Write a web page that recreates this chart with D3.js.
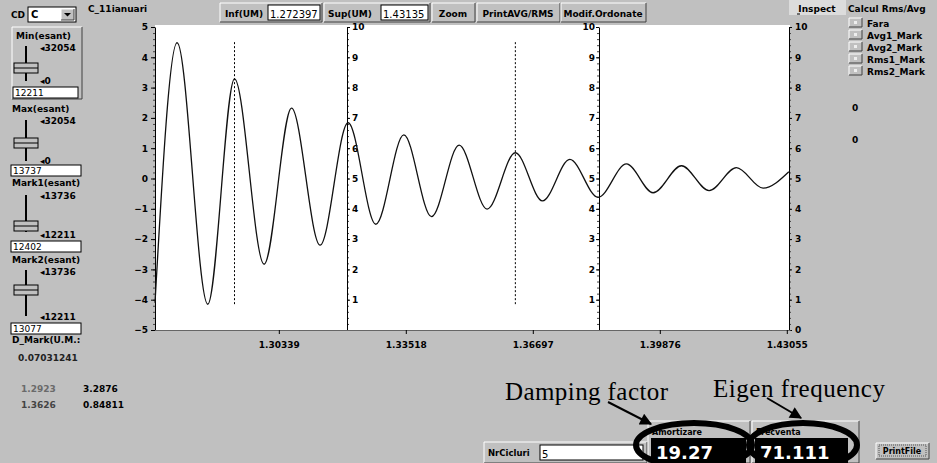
<!DOCTYPE html>
<html>
<head>
<meta charset="utf-8">
<script src="https://cdn.jsdelivr.net/npm/d3@7"></script>
<style>
  body { margin: 0; background: #c0c0c0; }
  svg text { font-family: "DejaVu Sans", Verdana, sans-serif; }
</style>
</head>
<body>
<script>
// values
const xTickValues = [1.30339, 1.33518, 1.36697, 1.39876, 1.43055];
const leftTicks = [-5, -4, -3, -2, -1, 0, 1, 2, 3, 4, 5];
const rightTicks = [0, 1, 2, 3, 4, 5, 6, 7, 8, 9, 10];
const midTicks = [1, 2, 3, 4, 5, 6, 7, 8, 9, 10];

// damped oscillation, extrema
const sampleX = [1.27240, 1.27793, 1.28561, 1.2923, 1.29971, 1.30657, 1.31372, 1.32073,
  1.32767, 1.33468, 1.34161, 1.34852, 1.35553, 1.3626, 1.36939, 1.37623, 1.38331,
  1.39042, 1.39708, 1.40419, 1.41110, 1.41795, 1.42461, 1.43105];
const sampleY = [-4.1, 4.48, -4.15, 3.29, -2.83, 2.32, -2.2, 1.84,
  -1.51, 1.44, -1.26, 1.10, -1.01, 0.85, -0.74, 0.63, -0.62,
  0.48, -0.47, 0.42, -0.40, 0.36, -0.32, 0.22];

const markerX = [1.2923, 1.3626];
const markerVal = ["3.2876", "0.84811"];

const infUM = "1.272397", supUM = "1.43135";
const dMark = "0.07031241";
const amortizare = "19.27", frecventa = "71.111", nrCicluri = "5";
const radioItems = ["Fara", "Avg1_Mark", "Avg2_Mark", "Rms1_Mark", "Rms2_Mark"];
const sliders = [
  {label: "Min(esant)", top: "32054", bot: "0", value: "12211"},
  {label: "Max(esant)", top: "32054", bot: "0", value: "13737"},
  {label: "Mark1(esant)", top: "13736", bot: "12211", value: "12402"},
  {label: "Mark2(esant)", top: "13736", bot: "12211", value: "13077"}
];

const W = 937, H = 463;
const svg = d3.select("body").append("svg").attr("width", W).attr("height", H);
svg.append("rect").attr("width", W).attr("height", H).attr("fill", "#c0c0c0");

function txt(x, y, s, opt) {
  opt = opt || {};
  return svg.append("text").attr("x", x).attr("y", y).text(s)
    .attr("font-size", opt.size || 9)
    .attr("font-weight", opt.weight || "bold")
    .attr("fill", opt.fill || "#000")
    .attr("text-anchor", opt.anchor || "start");
}
function box3d(x, y, w, h, sunken, fill) {
  svg.append("rect").attr("x", x).attr("y", y).attr("width", w).attr("height", h)
    .attr("fill", fill || "#c0c0c0");
  const lt = sunken ? "#808080" : "#fff", rb = sunken ? "#fff" : "#404040";
  svg.append("path").attr("d", `M${x},${y + h}V${y}H${x + w}`).attr("stroke", lt).attr("fill", "none");
  svg.append("path").attr("d", `M${x + w},${y}V${y + h}H${x}`).attr("stroke", rb).attr("fill", "none");
}
function input(x, y, w, h, s, size) {
  svg.append("rect").attr("x", x).attr("y", y).attr("width", w).attr("height", h)
    .attr("fill", "#fff").attr("stroke", "#000");
  txt(x + 2, y + h - 2, s, {size: size || 9, weight: "normal"});
}

// ---- plot area ----
const x = d3.scaleLinear().domain([1.272397, 1.43135]).range([155, 790]);
const yL = d3.scaleLinear().domain([-5, 5]).range([330, 27]);
const yR = d3.scaleLinear().domain([0, 10]).range([330, 27]);

svg.append("rect").attr("x", 155).attr("y", 25).attr("width", 635).attr("height", 305).attr("fill", "#fff");

function styleAxis(g) {
  g.selectAll("text").attr("font-size", 9).attr("font-weight", "bold");
  g.selectAll("path.domain").attr("stroke", "#000");
  g.selectAll("line").attr("stroke", "#000");
}
function minor(axisFn, scale, lo, hi, px) {
  svg.append("g").attr("transform", `translate(${px},0)`)
    .call(axisFn(scale).tickValues(d3.range(lo, hi + 0.001, 0.2)).tickSize(2).tickFormat(""))
    .call(g => g.select(".domain").remove())
    .selectAll("line").attr("stroke", "#444");
}

// left axis
minor(d3.axisLeft, yL, -5, 5, 155);
svg.append("g").attr("transform", "translate(155,0)")
  .call(d3.axisLeft(yL).tickValues(leftTicks).tickSize(4).tickPadding(3).tickSizeOuter(0))
  .call(styleAxis);

// second axis (labels right)
minor(d3.axisRight, yR, 0, 10, 347);
svg.append("g").attr("transform", "translate(347,0)")
  .call(d3.axisRight(yR).tickValues(midTicks).tickSize(3).tickPadding(2).tickSizeOuter(0))
  .call(styleAxis);

// third axis (labels left)
minor(d3.axisLeft, yR, 0, 10, 599);
svg.append("g").attr("transform", "translate(599,0)")
  .call(d3.axisLeft(yR).tickValues(midTicks).tickSize(3).tickPadding(1).tickSizeOuter(0))
  .call(styleAxis);

// right axis
minor(d3.axisRight, yR, 0, 10, 789);
svg.append("g").attr("transform", "translate(789,0)")
  .call(d3.axisRight(yR).tickValues(rightTicks).tickSize(3).tickPadding(3).tickSizeOuter(0))
  .call(styleAxis);

// bottom axis
svg.append("g").attr("transform", "translate(0,330)")
  .call(d3.axisBottom(x).tickValues(xTickValues).tickFormat(d => d.toFixed(5)).tickSize(4).tickPadding(8).tickSizeOuter(0))
  .call(styleAxis)
  .call(g => g.select(".domain").attr("stroke", "#666"));

// markers
svg.selectAll("line.marker").data(markerX).enter().append("line")
  .attr("class", "marker")
  .attr("x1", d => x(d)).attr("x2", d => x(d))
  .attr("y1", yL(4.5)).attr("y2", yL(-4.2))
  .attr("stroke", "#000").attr("stroke-dasharray", "2,2");

// wave
const pts = sampleX.map((d, i) => [d, sampleY[i]]);
const line = d3.line().x(d => x(d[0])).y(d => yL(d[1])).curve(d3.curveMonotoneX);
svg.append("path").attr("d", line(pts)).attr("fill", "none")
  .attr("stroke", "#111").attr("stroke-width", 1.3);

// ---- toolbar ----
box3d(220, 3, 102, 19, false);
txt(225, 17, "Inf(UM)");
input(268, 5, 52, 15, infUM, 10);
box3d(324, 3, 106, 19, false);
txt(328, 17, "Sup(UM)");
input(381, 5, 47, 15, supUM, 10);
box3d(432, 3, 43, 19, false);
txt(453, 17, "Zoom", {anchor: "middle"});
box3d(477, 3, 83, 19, false);
txt(518, 17, "PrintAVG/RMS", {anchor: "middle"});
box3d(561, 3, 85, 19, false);
txt(603, 17, "Modif.Ordonate", {anchor: "middle"});

svg.append("rect").attr("x", 789).attr("y", 0).attr("width", 57).attr("height", 15).attr("fill", "#dcdcdc");
txt(817, 12, "Inspect", {anchor: "middle"});
svg.append("line").attr("x1", 797).attr("x2", 800).attr("y1", 14).attr("y2", 14).attr("stroke", "#000");
txt(848, 12, "Calcul Rms/Avg");
radioItems.forEach((s, i) => {
  const cy = 23 + i * 12;
  box3d(849, cy - 5, 13, 9, false);
  svg.append("rect").attr("x", 854).attr("y", cy - 2).attr("width", 3).attr("height", 3).attr("fill", "#eee");
  txt(867, cy + 4, s);
});
txt(852, 111, "0");
txt(852, 143, "0");

// ---- left panel ----
txt(11, 18, "CD");
svg.append("rect").attr("x", 28).attr("y", 7).attr("width", 48).attr("height", 15).attr("fill", "#fff").attr("stroke", "#000");
txt(31, 18, "C", {size: 10});
box3d(61, 9, 13, 11, false);
svg.append("path").attr("d", "M64,13h7l-3.5,3.5z").attr("fill", "#000");
txt(88, 12, "C_11ianuari");

box3d(12, 27, 70, 72, false);
const slY = [{lab: 39, top: 51, l0: 46, l1: 81, th: 63, bot: 84, inp: 87},
             {lab: 112, top: 124, l0: 120, l1: 161, th: 138, bot: 164, inp: 165},
             {lab: 186, top: 199, l0: 195, l1: 232, th: 221, bot: 238, inp: 241},
             {lab: 263, top: 275, l0: 270, l1: 316, th: 285, bot: 320, inp: 323}];
sliders.forEach((s, i) => {
  const p = slY[i];
  txt(i === 0 ? 16 : 12, p.lab, s.label);
  txt(40, p.top, "\u25C2" + s.top);
  svg.append("line").attr("x1", 26).attr("x2", 26).attr("y1", p.l0).attr("y2", p.l1)
    .attr("stroke", "#000").attr("stroke-width", 2);
  svg.append("rect").attr("x", 14).attr("y", p.th).attr("width", 24).attr("height", 10)
    .attr("fill", "#c0c0c0").attr("stroke", "#000");
  svg.append("line").attr("x1", 14).attr("x2", 38).attr("y1", p.th + 5).attr("y2", p.th + 5).attr("stroke", "#000");
  txt(40, p.bot, "\u25C2" + s.bot);
  input(i === 0 ? 13 : 11, p.inp, i === 0 ? 65 : 70, 11, s.value, 9);
});
txt(12, 343, "D_Mark(U.M.:");
txt(18, 361, dMark, {fill: "#222"});
markerX.forEach((m, i) => {
  txt(21, 392 + i * 16, String(m), {fill: i === 0 ? "#6a6a6a" : "#444"});
  txt(83, 392 + i * 16, markerVal[i]);
});

// ---- bottom ----
box3d(484, 442, 163, 21, false);
txt(488, 456, "NrCicluri", {size: 8.5});
input(540, 445, 103, 15, nrCicluri, 10);

box3d(648, 421, 102, 42, false);
txt(652, 435, "Amortizare", {size: 8});
svg.append("rect").attr("x", 651).attr("y", 438).attr("width", 95).attr("height", 25).attr("fill", "#000");
txt(656, 459, amortizare, {size: 18, fill: "#fff"});

box3d(752, 421, 107, 42, false);
txt(756, 435, "Frecventa", {size: 8});
svg.append("rect").attr("x", 755).attr("y", 438).attr("width", 93).attr("height", 25).attr("fill", "#000");
txt(760, 459, frecventa, {size: 18, fill: "#fff"});

box3d(876, 443, 53, 16, false);
svg.append("rect").attr("x", 879).attr("y", 445).attr("width", 47).attr("height", 11)
  .attr("fill", "none").attr("stroke", "#555").attr("stroke-dasharray", "1,1");
txt(902, 454, "PrintFile", {anchor: "middle", size: 8});

// annotation
svg.append("ellipse").attr("cx", 694).attr("cy", 445).attr("rx", 58).attr("ry", 22)
  .attr("fill", "none").attr("stroke", "#000").attr("stroke-width", 6);
svg.append("ellipse").attr("cx", 803).attr("cy", 445).attr("rx", 54).attr("ry", 22)
  .attr("fill", "none").attr("stroke", "#000").attr("stroke-width", 6);

svg.append("defs").append("marker").attr("id", "ah").attr("viewBox", "0 0 10 10")
  .attr("refX", 9).attr("refY", 5).attr("markerWidth", 14).attr("markerHeight", 12)
  .attr("markerUnits", "userSpaceOnUse").attr("orient", "auto")
  .append("path").attr("d", "M0,0L10,5L0,10z").attr("fill", "#000");
svg.append("line").attr("x1", 608).attr("y1", 402).attr("x2", 651).attr("y2", 424)
  .attr("stroke", "#000").attr("stroke-width", 2).attr("marker-end", "url(#ah)");
svg.append("line").attr("x1", 767).attr("y1", 398).attr("x2", 801).attr("y2", 418)
  .attr("stroke", "#000").attr("stroke-width", 2).attr("marker-end", "url(#ah)");

svg.append("text").attr("x", 505).attr("y", 400).text("Damping factor")
  .style("font-family", "'Liberation Serif', 'Times New Roman', serif").attr("font-size", 25)
  .attr("textLength", 163).attr("fill", "#000");
svg.append("text").attr("x", 713).attr("y", 397).text("Eigen frequency")
  .style("font-family", "'Liberation Serif', 'Times New Roman', serif").attr("font-size", 25)
  .attr("textLength", 172).attr("fill", "#000");
</script>
</body>
</html>
